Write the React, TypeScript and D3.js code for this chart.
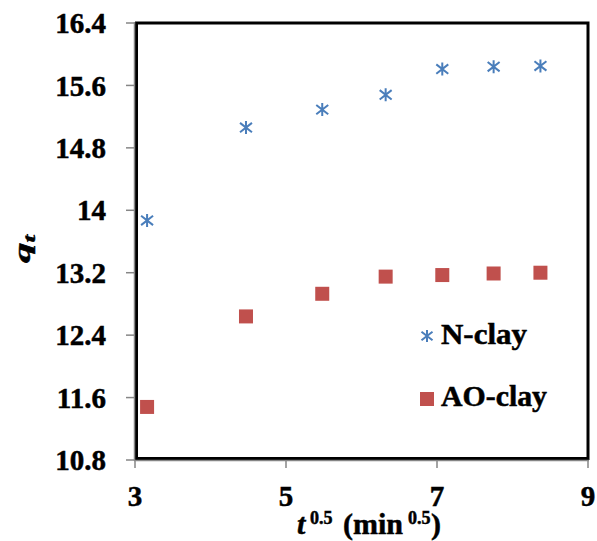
import React from "react";
import * as d3 from "d3";

const tValues = [3.16, 4.47, 5.48, 6.32, 7.07, 7.75, 8.37];
const nClay = [13.87, 15.06, 15.29, 15.48, 15.81, 15.84, 15.85];
const aoClay = [11.48, 12.64, 12.93, 13.15, 13.17, 13.19, 13.2];
const xTicks = [3, 5, 7, 9];
const yTicks = [10.8, 11.6, 12.4, 13.2, 14, 14.8, 15.6, 16.4];
const seriesNames = ["N-clay", "AO-clay"];

const W = 597;
const H = 541;
const left = 135, right = 588, top = 23, bottom = 460;
const FONT = "'Liberation Serif', 'Times New Roman', serif";
const BLUE = "#4a7ebb";
const RED = "#c0504d";
const TS = { stroke: "#000", strokeWidth: 0.5 } as const;

const starPath = (s: number) =>
  `M0,${-s}L0,${s}M${-s * 0.92},${-s * 0.72}L${s * 0.92},${s * 0.72}M${-s * 0.92},${s * 0.72}L${s * 0.92},${-s * 0.72}`;

export default function App() {
  const x = d3.scaleLinear().domain([3, 9]).range([left, right]);
  const y = d3.scaleLinear().domain([10.8, 16.4]).range([bottom, top]);
  const fmt = (v: number) => (Number.isInteger(v) ? String(v) : v.toFixed(1));

  return (
    <svg width={W} height={H} style={{ position: "absolute", left: 0, top: 0, background: "#fff" }} fontFamily={FONT}>
      <rect x={0} y={0} width={W} height={H} fill="#fff" />
      {/* frame */}
      <rect x={left + 1.5} y={top} width={right - left - 1.5} height={bottom - top - 1.5} fill="none" stroke="#000" strokeWidth={3} />
      {/* axis lines */}
      <line x1={left - 0.5} x2={left - 0.5} y1={top - 1} y2={bottom + 1} stroke="#868686" strokeWidth={1.5} />
      <line x1={left - 1} x2={right + 1} y1={bottom + 0.5} y2={bottom + 0.5} stroke="#868686" strokeWidth={1.5} />
      {/* y ticks */}
      {yTicks.map((t) => (
        <g key={"y" + t}>
          <line x1={left - 9} x2={left} y1={y(t)} y2={y(t)} stroke="#868686" strokeWidth={1.5} />
          <text x={106} y={y(t)} dy="0.35em" textAnchor="end" fontSize={29} fontWeight="bold" {...TS}>
            {fmt(t)}
          </text>
        </g>
      ))}
      {/* x ticks */}
      {xTicks.map((t) => (
        <g key={"x" + t}>
          <line x1={x(t)} x2={x(t)} y1={bottom} y2={bottom + 8} stroke="#868686" strokeWidth={1.5} />
          <text x={x(t)} y={506} textAnchor="middle" fontSize={29} fontWeight="bold" {...TS}>
            {t}
          </text>
        </g>
      ))}
      {/* series N-clay */}
      {tValues.map((t, i) => (
        <path key={"n" + i} d={starPath(6.5)} transform={`translate(${x(t)},${y(nClay[i])})`} stroke={BLUE} strokeWidth={2} fill="none" />
      ))}
      {/* series AO-clay */}
      {tValues.map((t, i) => (
        <rect key={"a" + i} x={x(t) - 7} y={y(aoClay[i]) - 7} width={14} height={14} fill={RED} />
      ))}
      {/* legend */}
      <path d={starPath(6)} transform="translate(427,336)" stroke={BLUE} strokeWidth={2} fill="none" />
      <text x={441} y={344} fontSize={29} fontWeight="bold" textLength={86} lengthAdjust="spacingAndGlyphs" {...TS}>
        {seriesNames[0]}
      </text>
      <rect x={420} y={392} width={14} height={14} fill={RED} />
      <text x={441} y={406} fontSize={29} fontWeight="bold" textLength={106} lengthAdjust="spacingAndGlyphs" {...TS}>
        {seriesNames[1]}
      </text>
      {/* x title */}
      <text y={534} fontSize={30} fontWeight="bold" {...TS}>
        <tspan x={297} fontStyle="italic">t</tspan>
        <tspan x={310} fontSize={18} dy={-10}>0.5</tspan>
        <tspan x={343} dy={10}>(min</tspan>
        <tspan x={408} fontSize={18} dy={-10}>0.5</tspan>
        <tspan x={431} dy={10}>)</tspan>
      </text>
      {/* y title */}
      <text transform="translate(30,249) rotate(-90)" textAnchor="middle" fontSize={24} fontWeight="bold" textLength={28} lengthAdjust="spacingAndGlyphs" {...TS}>
        <tspan fontStyle="italic">q</tspan>
        <tspan fontStyle="italic" fontSize={16} dy={5}>t</tspan>
      </text>
    </svg>
  );
}
